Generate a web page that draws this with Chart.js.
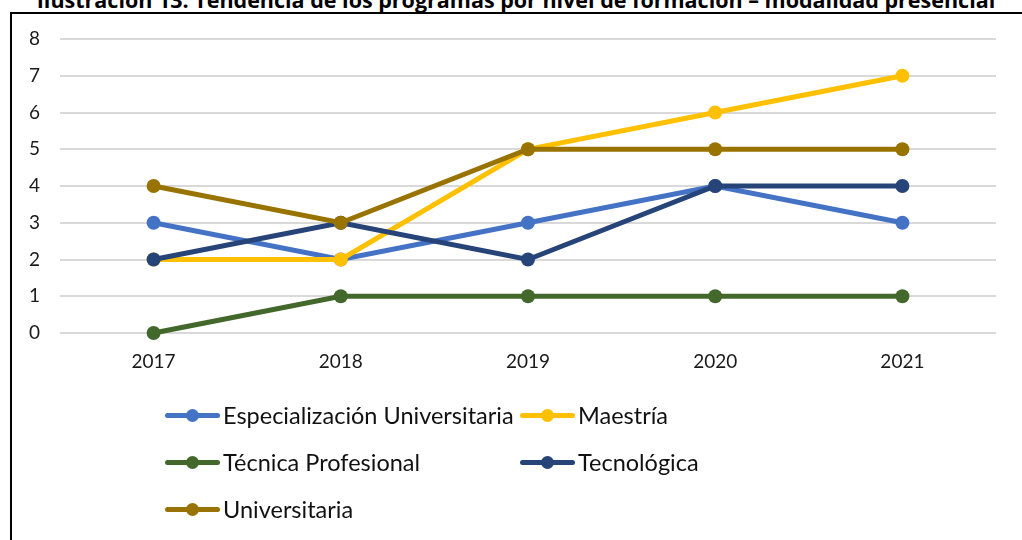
<!DOCTYPE html>
<html>
<head>
<meta charset="utf-8">
<script src="https://cdn.jsdelivr.net/npm/chart.js@4/dist/chart.umd.min.js"></script>
<style>
  html, body { margin: 0; padding: 0; background: #fff; }
  body { width: 1022px; height: 540px; position: relative; overflow: hidden; font-family: Lato, "Noto Sans", sans-serif; }
  #title { position: absolute; left: 5px; width: 1022px; top: -15px; text-align: center; font: bold 21.5px "Open Sans", sans-serif; color: #000; white-space: nowrap; }
  #box { position: absolute; left: 10px; top: 12px; width: 1100px; height: 600px; border-left: 2px solid #000; border-top: 2px solid #000; background: #fff; }
  #chart { position: absolute; left: 0; top: 0; }
  #legend { position: absolute; left: 165px; top: 400px; display: grid; grid-template-columns: 355px 300px; row-gap: 18px; }
  .item { display: flex; align-items: center; height: 29px; font-size: 23.5px; color: #111; white-space: nowrap; }
  .mark { position: relative; width: 55px; height: 14px; margin-right: 3px; flex: none; }
  .mark .ln { position: absolute; left: 0; right: 0; top: 5px; height: 5px; border-radius: 3px; }
  .mark .dt { position: absolute; left: 21px; top: 1px; width: 13px; height: 13px; border-radius: 50%; }
</style>
</head>
<body>
<div id="title">Ilustración 13. Tendencia de los programas por nivel de formación – modalidad presencial</div>
<div id="box"></div>
<canvas id="chart" width="1022" height="540"></canvas>
<div id="legend"></div>
<script>
// Years on the x axis
const years = ['2017', '2018', '2019', '2020', '2021'];

// Number of programmes per training level
const especializacion = [3, 2, 3, 4, 3];
const maestria = [2, 2, 5, 6, 7];
const tecnicaProfesional = [0, 1, 1, 1, 1];
const tecnologica = [2, 3, 2, 4, 4];
const universitaria = [4, 3, 5, 5, 5];

const seriesNames = ['Especialización Universitaria', 'Maestría', 'Técnica Profesional', 'Tecnológica', 'Universitaria'];
const seriesColors = ['#4472C4', '#FFC000', '#43682B', '#264478', '#997300'];
const seriesValues = [especializacion, maestria, tecnicaProfesional, tecnologica, universitaria];

const datasets = seriesValues.map((vals, i) => ({
    label: seriesNames[i],
    data: vals,
    borderColor: seriesColors[i],
    backgroundColor: seriesColors[i],
    borderWidth: 5,
    pointRadius: 7,
    pointBorderWidth: 0,
    pointBackgroundColor: seriesColors[i],
    tension: 0,
    clip: false,
    // later series sit on top, like the original
    order: seriesValues.length - i
}));

const chart = new Chart(document.getElementById('chart'), {
    type: 'line',
    data: { labels: years, datasets: datasets },
    options: {
        responsive: false,
        animation: false,
        layout: { padding: { top: 39, right: 26, left: 0, bottom: 0 } },
        plugins: { legend: { display: false }, tooltip: { enabled: false } },
        scales: {
            x: {
                offset: true,
                grid: { display: false, drawTicks: false },
                border: { display: false },
                ticks: { padding: 17, color: '#1a1a1a', font: { family: 'Lato', size: 19 } },
                afterFit: s => { s.height = 207; }
            },
            y: {
                min: 0,
                max: 8,
                ticks: { stepSize: 1, padding: 20, color: '#1a1a1a', font: { family: 'Lato', size: 19 } },
                grid: { color: '#d9d9d9', lineWidth: 2, drawTicks: false },
                border: { display: false },
                afterFit: s => { s.width = 60; }
            }
        }
    }
});

// Legend in two columns, built from the chart's datasets
const legend = document.getElementById('legend');
chart.data.datasets.forEach(ds => {
    const item = document.createElement('div');
    item.className = 'item';
    item.innerHTML = `<span class="mark"><span class="ln" style="background:${ds.borderColor}"></span><span class="dt" style="background:${ds.borderColor}"></span></span>${ds.label}`;
    legend.appendChild(item);
});
</script>
</body>
</html>
